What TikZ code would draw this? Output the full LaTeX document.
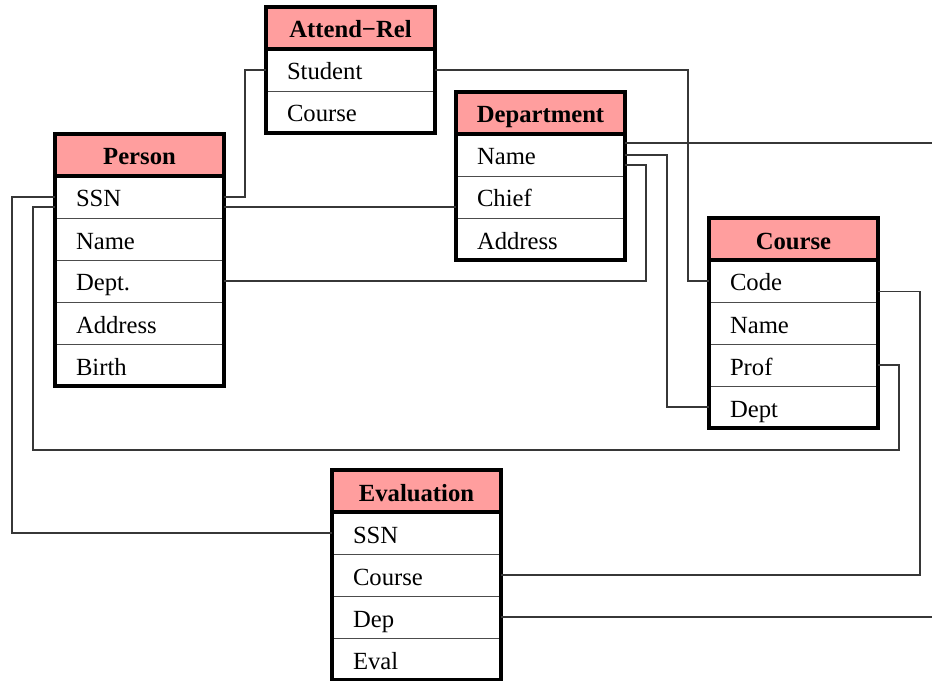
\documentclass[tikz,border=0pt]{standalone}
\usepackage{fontspec}
\setmainfont{Liberation Serif}
\definecolor{hdrpink}{RGB}{255,158,158}
\definecolor{wire}{RGB}{55,55,55}
\tikzset{
  ent/.style={rectangle, inner sep=0pt, outer sep=0pt, minimum width=126.75pt,
    minimum height=31.5pt, anchor=north west},
  hdr/.style={ent, fill=hdrpink, font=\fontsize{18.5}{22}\selectfont\bfseries,
    text height=18pt, text depth=3pt},
  fld/.style={ent, draw=black!70, line width=0.6pt, inner xsep=15.75pt,
    text width=95.25pt, align=left, font=\fontsize{18.5}{22}\selectfont,
    text height=18pt, text depth=3pt},
  frame/.style={draw=black, line width=2.4pt},
  link/.style={draw=wire, line width=0.8pt},
}
\begin{document}
\begin{tikzpicture}[x=0.75pt, y=-0.75pt]
\useasboundingbox (0,0) rectangle (932,681);
\coordinate (edgeR) at (932,0);

% Attend-Rel
\node[hdr] (ar) at (266,7) {Attend−Rel};
\node[fld] (ar1) at (ar.south west) {Student};
\node[fld] (ar2) at (ar1.south west) {Course};
\draw[frame] (ar.north west) rectangle (ar2.south east);
\draw[frame] (ar.south west) -- (ar.south east);

% Department
\node[hdr] (dp) at (456,92) {Department};
\node[fld] (d1) at (dp.south west) {Name};
\node[fld] (d2) at (d1.south west) {Chief};
\node[fld] (d3) at (d2.south west) {Address};
\draw[frame] (dp.north west) rectangle (d3.south east);
\draw[frame] (dp.south west) -- (dp.south east);

% Person
\node[hdr] (ps) at (55,134) {Person};
\node[fld] (p1) at (ps.south west) {SSN};
\node[fld] (p2) at (p1.south west) {Name};
\node[fld] (p3) at (p2.south west) {Dept.};
\node[fld] (p4) at (p3.south west) {Address};
\node[fld] (p5) at (p4.south west) {Birth};
\draw[frame] (ps.north west) rectangle (p5.south east);
\draw[frame] (ps.south west) -- (ps.south east);

% Course
\node[hdr] (cs) at (709,218) {Course};
\node[fld] (c1) at (cs.south west) {Code};
\node[fld] (c2) at (c1.south west) {Name};
\node[fld] (c3) at (c2.south west) {Prof};
\node[fld] (c4) at (c3.south west) {Dept};
\draw[frame] (cs.north west) rectangle (c4.south east);
\draw[frame] (cs.south west) -- (cs.south east);

% Evaluation
\node[hdr] (ev) at (332,470) {Evaluation};
\node[fld] (e1) at (ev.south west) {SSN};
\node[fld] (e2) at (e1.south west) {Course};
\node[fld] (e3) at (e2.south west) {Dep};
\node[fld] (e4) at (e3.south west) {Eval};
\draw[frame] (ev.north west) rectangle (e4.south east);
\draw[frame] (ev.south west) -- (ev.south east);

% references between tables
\draw[link] (ar1.west) -- ++(-21,0) |- (p1.east);
\draw[link] ([yshift=-7.5pt]p1.east) -- ([yshift=-7.5pt]d2.west);
\draw[link] (ar1.east) -| ([xshift=-15.75pt]c1.west) -- (c1.west);
\draw[link] ([yshift=9pt]d1.east) -- ([yshift=9pt]d1.east -| edgeR);
\draw[link] (d1.east) -| ([xshift=-31.5pt]c4.west) -- (c4.west);
\draw[link] ([yshift=-7.5pt]d1.east) -- ++(21,0) |- (p3.east);
\draw[link] ([yshift=-8pt]c1.east) -- ++(42,0) |- (e2.east);
\draw[link] (c3.east) -- ++(21,0) -- ++(0,85)
  -| ([xshift=-16.5pt,yshift=-7.5pt]p1.west) -- ([yshift=-7.5pt]p1.west);
\draw[link] (p1.west) -- ++(-43,0) |- (e1.west);
\draw[link] (e3.east) -- (e3.east -| edgeR);
\end{tikzpicture}
\end{document}
